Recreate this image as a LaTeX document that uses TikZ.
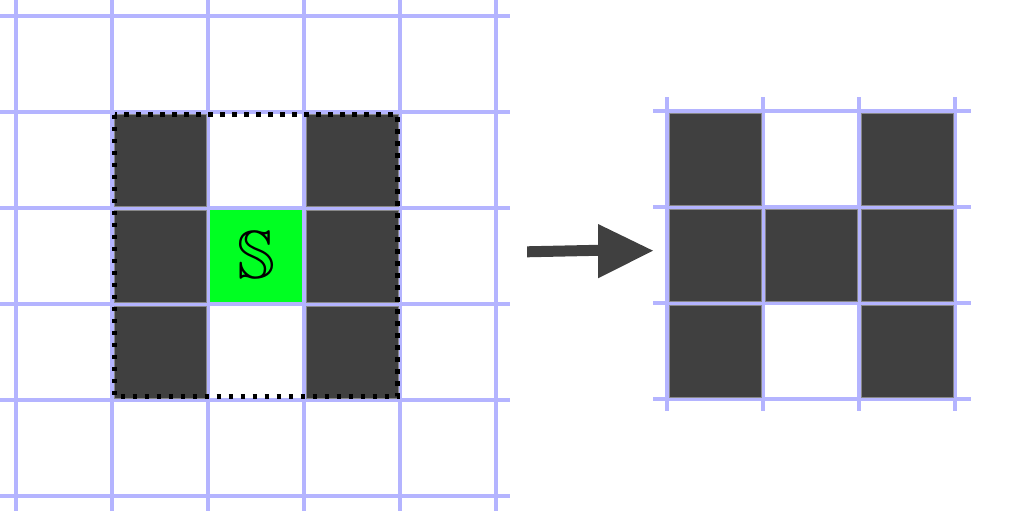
\documentclass[tikz,border=0pt]{standalone}
\usepackage{amssymb}
\definecolor{gridc}{RGB}{180,180,255}
\definecolor{cellc}{RGB}{64,64,64}
\definecolor{edgec}{RGB}{136,136,136}
\definecolor{greenc}{RGB}{0,255,34}
\begin{document}
\begin{tikzpicture}[x=1pt,y=-1pt,
  gridline/.style={draw=gridc,line width=4pt},
  darkcell/.style={fill=cellc,draw=edgec,line width=1pt},
  greencell/.style={fill=greenc,draw=none},
  selborder/.style={draw=black,line width=5pt,dash pattern=on 4.5pt off 7.5pt},
  bigarrow/.style={fill=cellc,draw=none}]
\useasboundingbox (0,0) rectangle (1022,511);
% left grid
\foreach \v in {16,112,208,304,400,496} {
  \draw[gridline] (\v,0) -- (\v,511);
  \draw[gridline] (0,\v) -- (510,\v);
}
% left cells
\foreach \c/\r in {0/0,2/0,0/1,2/1,0/2,2/2} {
  \draw[darkcell] ({112+96*\c+2},{112+96*\r+2}) rectangle ({112+96*\c+94},{112+96*\r+94});
}
\fill[greencell] (210,210) rectangle (302,302);
\node (s) at (256,255) {\fontsize{68}{68}\selectfont$\mathbb{S}$};
\draw[selborder] (114.5,114.5) rectangle (397.5,396.5);
% arrow
\fill[bigarrow] (527,246.3) -- (598,244.8) -- (598,224) -- (653,250.7) -- (598,278.3) -- (598,255.8) -- (527,257.3) -- cycle;
% right grid
\foreach \v in {667,763,859,955} {
  \draw[gridline] (\v,97) -- (\v,411);
}
\foreach \v in {111,207,303,399} {
  \draw[gridline] (653,\v) -- (971,\v);
}
\foreach \c/\r in {0/0,2/0,0/1,1/1,2/1,0/2,2/2} {
  \draw[darkcell] ({667+96*\c+2},{111+96*\r+2}) rectangle ({667+96*\c+94},{111+96*\r+94});
}
\end{tikzpicture}
\end{document}
